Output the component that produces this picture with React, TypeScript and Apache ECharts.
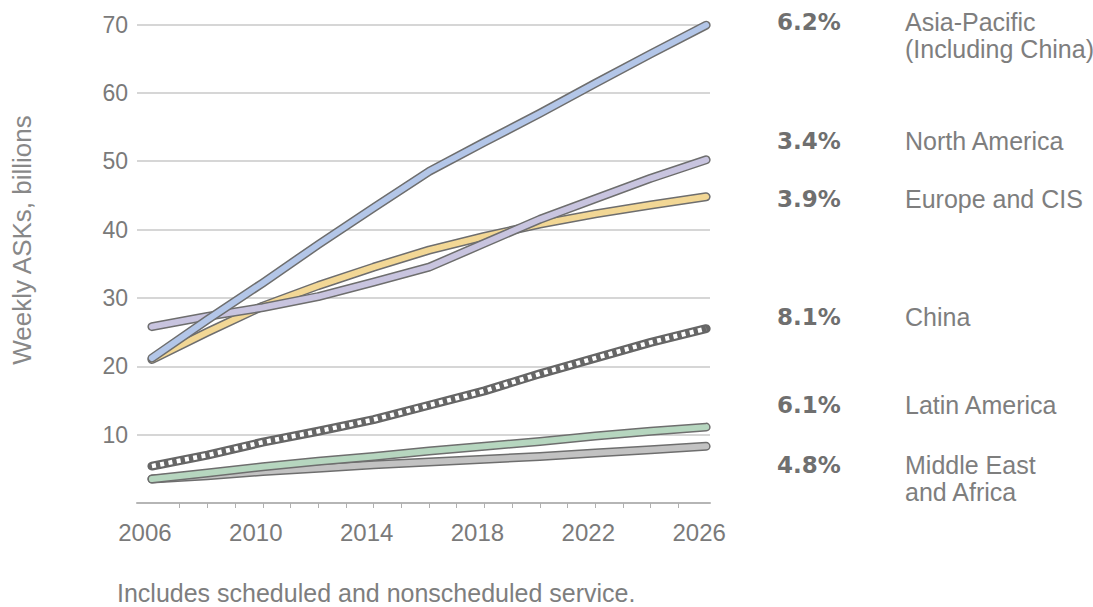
import React, { useEffect, useRef } from "react";
import * as echarts from "echarts";

const years = [2006, 2008, 2010, 2012, 2014, 2016, 2018, 2020, 2022, 2024, 2026];
const asiaPacific = [21.2, 26.8, 32.2, 37.8, 43.2, 48.5, 52.8, 57.0, 61.4, 65.7, 69.9];
const northAmerica = [25.8, 27.3, 28.6, 30.2, 32.3, 34.5, 38.0, 41.5, 44.5, 47.5, 50.2];
const europeCIS = [21.0, 25.0, 28.8, 31.8, 34.5, 37.0, 39.0, 40.8, 42.3, 43.6, 44.8];
const china = [5.4, 7.0, 8.9, 10.5, 12.2, 14.3, 16.4, 18.9, 21.2, 23.5, 25.5];
const latinAmerica = [3.5, 4.4, 5.3, 6.1, 6.8, 7.6, 8.3, 9.0, 9.8, 10.5, 11.1];
const middleEastAfrica = [3.5, 4.0, 4.6, 5.1, 5.6, 6.0, 6.4, 6.8, 7.3, 7.8, 8.3];

const xLabelYears = [2006, 2010, 2014, 2018, 2022, 2026];
const xTickYears = [2007, 2008, 2009, 2010, 2011, 2012, 2013, 2014, 2015, 2016, 2017, 2018, 2019, 2020, 2021, 2022, 2023, 2024, 2025];

const legendRows = [
  { pct: "6.2%", name: ["Asia-Pacific", "(Including China)"], y: 22 },
  { pct: "3.4%", name: ["North America"], y: 141 },
  { pct: "3.9%", name: ["Europe and CIS"], y: 199 },
  { pct: "8.1%", name: ["China"], y: 317 },
  { pct: "6.1%", name: ["Latin America"], y: 405 },
  { pct: "4.8%", name: ["Middle East", "and Africa"], y: 465 },
];

const OUTLINE = "#6e6e6e";

function pairs(vals: number[]) {
  return years.map((y, i) => [y, vals[i]]);
}

function outlined(name: string, vals: number[], fill: string) {
  const data = pairs(vals);
  return [
    {
      name: name + "-outline",
      type: "line",
      data,
      symbol: "none",
      silent: true,
      lineStyle: { color: OUTLINE, width: 9, cap: "round", join: "round" },
    },
    {
      name,
      type: "line",
      data,
      symbol: "none",
      silent: true,
      lineStyle: { color: fill, width: 6, cap: "round", join: "round" },
    },
  ];
}

export default function App() {
  const ref = useRef<HTMLDivElement>(null);
  useEffect(() => {
    if (!ref.current) return;
    const chart = echarts.init(ref.current, undefined, { renderer: "svg" });
    const chinaData = pairs(china);
    const graphics: any[] = [];
    legendRows.forEach((r) => {
      graphics.push({
        type: "text",
        x: 777,
        y: r.y,
        style: {
          text: r.pct,
          fill: "#6f6f6f",
          font: "bold 23px 'DejaVu Sans'",
          textAlign: "left",
          textVerticalAlign: "middle",
        },
      });
      r.name.forEach((line, i) => {
        graphics.push({
          type: "text",
          x: 905,
          y: r.y + i * 27,
          style: {
            text: line,
            fill: "#7e7e7e",
            font: "25px 'Liberation Sans'",
            textAlign: "left",
            textVerticalAlign: "middle",
          },
        });
      });
    });
    graphics.push({
      type: "text",
      x: 22,
      y: 240,
      rotation: Math.PI / 2,
      style: {
        text: "Weekly ASKs, billions",
        fill: "#888888",
        font: "26px 'Liberation Sans'",
        textAlign: "center",
        textVerticalAlign: "middle",
      },
    });
    graphics.push({
      type: "text",
      x: 117,
      y: 593,
      style: {
        text: "Includes scheduled and nonscheduled service.",
        fill: "#7e7e7e",
        font: "25px 'Liberation Sans'",
        textAlign: "left",
        textVerticalAlign: "middle",
      },
    });

    chart.setOption({
      animation: false,
      grid: { left: 137, right: 383, top: 24.5, bottom: 104, containLabel: false },
      xAxis: {
        type: "value",
        min: 2005.46,
        max: 2026.14,
        axisLine: { show: true, lineStyle: { color: "#b5b5b5", width: 2 } },
        axisTick: {
          show: true,
          customValues: xTickYears,
          length: 5,
          lineStyle: { color: "#b0b0b0", width: 1 },
        },
        axisLabel: {
          customValues: xLabelYears,
          formatter: (v: number) => String(Math.round(v)),
          color: "#7a7a7a",
          fontSize: 24,
          fontFamily: "Liberation Sans",
          margin: 17,
          padding: [0, 14, 0, 0],
        },
        splitLine: { show: false },
      },
      yAxis: {
        type: "value",
        min: 0,
        max: 70,
        interval: 10,
        axisLine: { show: false },
        axisTick: { show: false },
        axisLabel: {
          formatter: (v: number) => (v === 0 ? "" : String(v)),
          color: "#7a7a7a",
          fontSize: 23,
          fontFamily: "Liberation Sans",
          margin: 9,
        },
        splitLine: { show: true, lineStyle: { color: "#d6d6d6", width: 2 } },
      },
      series: [
        ...outlined("Middle East and Africa", middleEastAfrica, "#c2c2c2"),
        ...outlined("Latin America", latinAmerica, "#b6d6bf"),
        {
          name: "China-outline",
          type: "line",
          data: chinaData,
          symbol: "none",
          silent: true,
          lineStyle: { color: "#666666", width: 9, cap: "round", join: "round" },
        },
        {
          name: "China",
          type: "line",
          data: chinaData,
          symbol: "none",
          silent: true,
          lineStyle: { color: "#ffffff", width: 4.5, type: [4, 4.4], cap: "butt" },
        },
        ...outlined("Europe and CIS", europeCIS, "#f2d795"),
        ...outlined("North America", northAmerica, "#c8c4df"),
        ...outlined("Asia-Pacific (Including China)", asiaPacific, "#b3c6e8"),
      ],
      graphic: graphics,
    });
    return () => chart.dispose();
  }, []);
  return (
    <div
      ref={ref}
      style={{ position: "absolute", left: 0, top: 0, width: 1093, height: 607, background: "#fff" }}
    />
  );
}
